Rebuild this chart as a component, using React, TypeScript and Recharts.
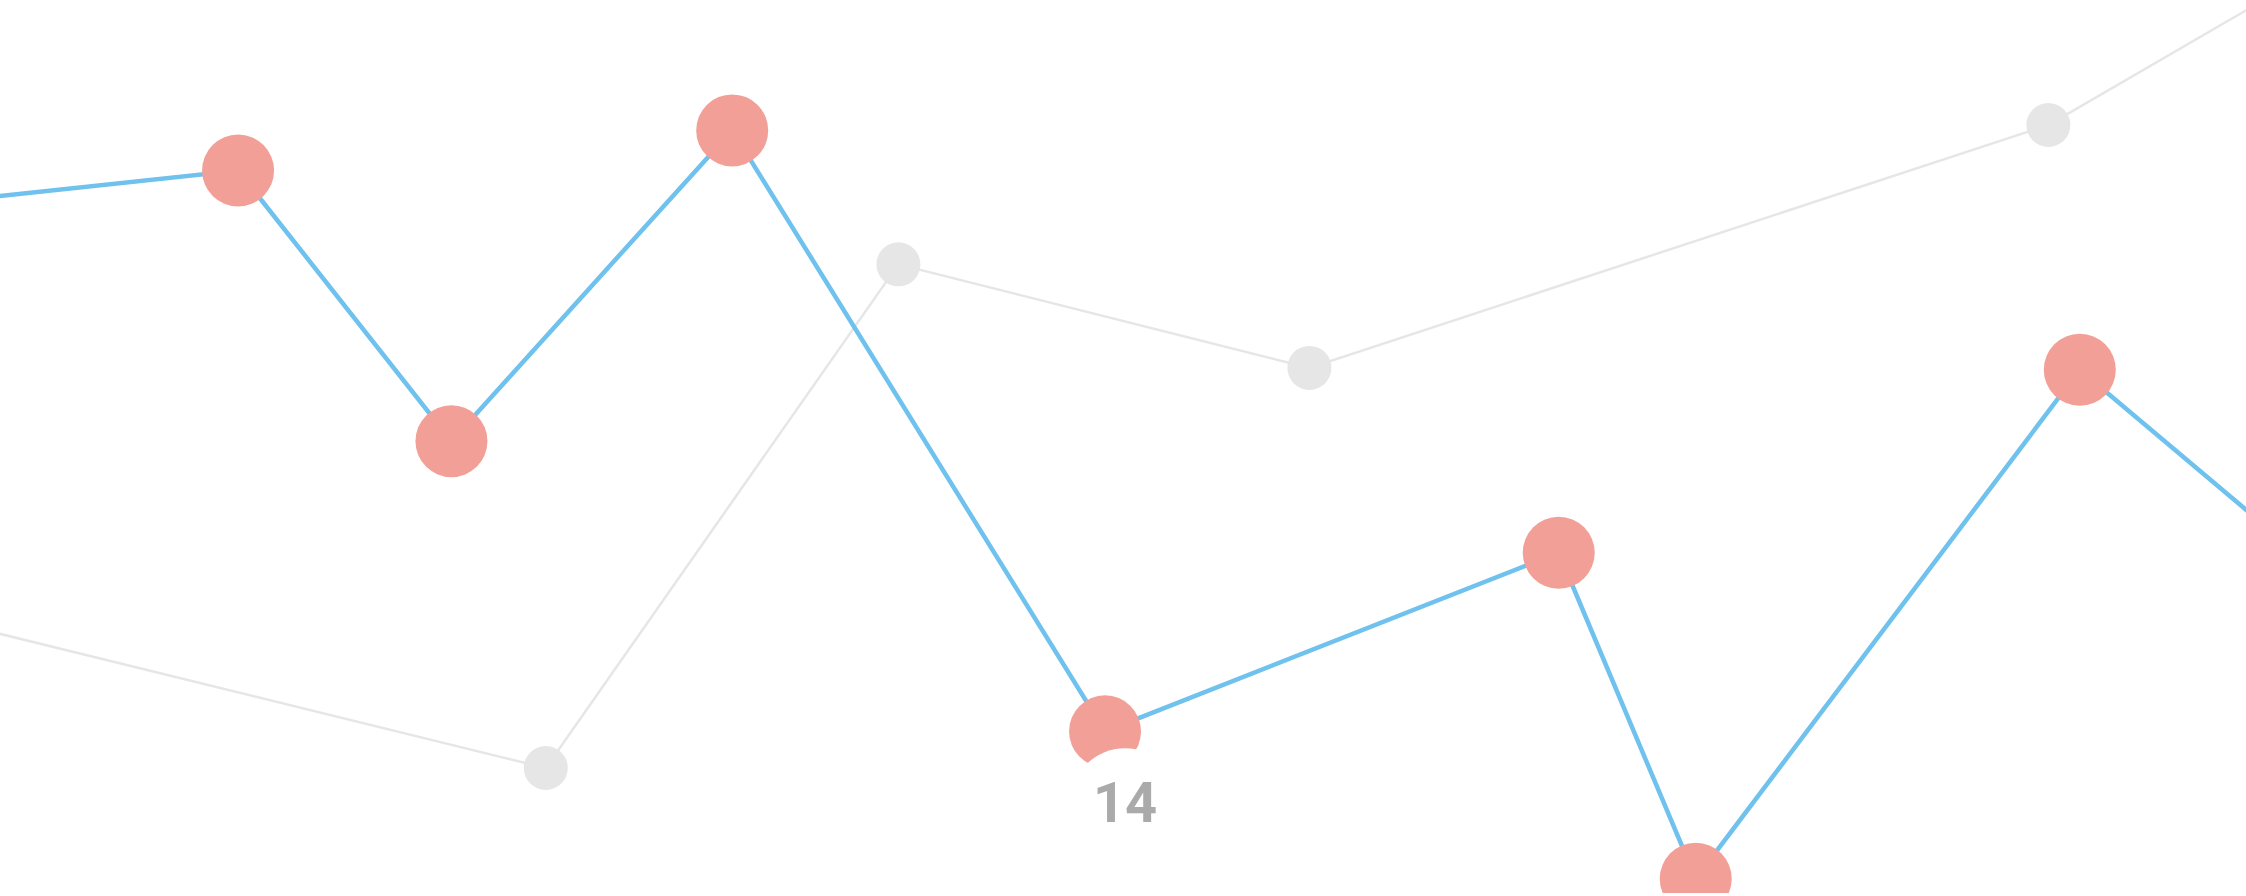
import { Line, LineChart, XAxis, YAxis } from "recharts"

// x positions are on a 0-100 scale, values on a 0-100 scale
const blueX = [-8.0, 10.6, 20.1, 32.6, 49.2, 69.4, 75.5, 92.6, 106.9]
const blueY = [75.9, 80.9, 50.6, 85.4, 18.1, 38.1, 1.6, 58.6, 28.3]

const grayX = [-13.4, 24.3, 40.0, 58.3, 91.2, 106.9]
const grayY = [37.3, 14.0, 70.4, 58.8, 86.0, 108.9]

// only one point carries a visible label
const labelIndex = 4
const labelText = "14"

const blueData = blueX.map((x, i) => ({ x, y: blueY[i] }))
const grayData = grayX.map((x, i) => ({ x, y: grayY[i] }))

const WIDTH = 2246
const HEIGHT = 893

function PointLabel(props: any) {
    const { x, y, index } = props
    if (index !== labelIndex) return null
    const cx = x + 20
    const cy = y + 72
    return (
        <g>
            <circle cx={cx} cy={cy} r={55} fill="#ffffff" />
            <text
                x={cx}
                y={cy}
                textAnchor="middle"
                dominantBaseline="central"
                fill="#aaaaaa"
                fontSize={56}
                fontWeight={700}
                fontFamily="Roboto, 'Open Sans', sans-serif"
            >
                {labelText}
            </text>
        </g>
    )
}

export default function App() {
    return (
        <div style={{ position: "absolute", left: 0, top: 0, width: WIDTH, height: 896, background: "#fff" }}>
            <LineChart width={WIDTH} height={HEIGHT} margin={{ top: 0, right: 0, left: 0, bottom: 0 }}>
                <XAxis type="number" dataKey="x" domain={[0, 100]} allowDataOverflow hide />
                <YAxis type="number" dataKey="y" domain={[0, 100]} allowDataOverflow hide />
                <Line
                    data={grayData}
                    dataKey="y"
                    stroke="#e6e6e6"
                    strokeWidth={2.5}
                    dot={{ r: 22, fill: "#e6e6e6", stroke: "none" }}
                    activeDot={false}
                    isAnimationActive={false}
                />
                <Line
                    data={blueData}
                    dataKey="y"
                    stroke="#6fc1ee"
                    strokeWidth={4.5}
                    dot={{ r: 36, fill: "#f2a097", stroke: "none" }}
                    activeDot={false}
                    label={<PointLabel />}
                    isAnimationActive={false}
                />
            </LineChart>
        </div>
    )
}
